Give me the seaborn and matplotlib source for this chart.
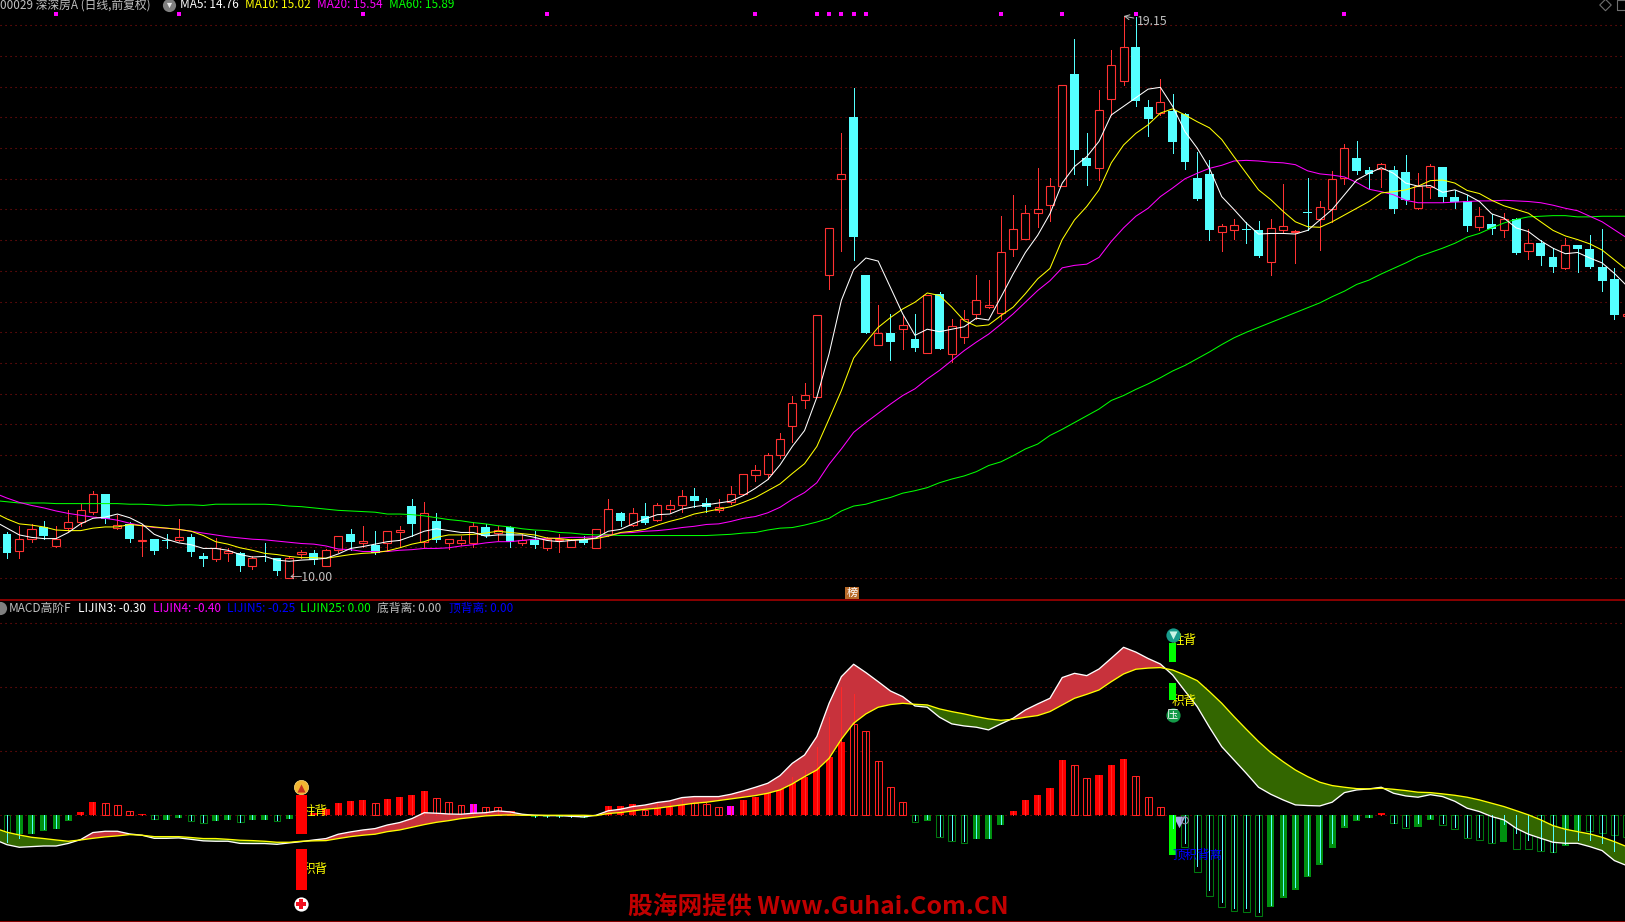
import numpy as np
import matplotlib
matplotlib.use("Agg")
import matplotlib.pyplot as plt
import seaborn as sns

opens = [10.72,10.43,10.64,10.83,10.52,10.82,10.91,11.07,11.36,10.82,
    10.88,10.60,10.63,10.61,10.62,10.66,10.35,10.31,10.41,10.41,
    10.19,10.36,10.33,10.00,10.39,10.41,10.19,10.45,10.72,10.57,
    10.53,10.57,10.74,11.17,10.58,10.92,10.57,10.57,10.57,10.83,
    10.73,10.83,10.57,10.62,10.48,10.61,10.51,10.64,10.48,10.72,
    11.05,10.86,11.01,10.95,11.12,11.18,11.34,11.22,11.10,11.24,
    11.36,11.68,11.69,12.00,12.47,12.90,12.94,14.93,16.49,17.50,
    14.94,13.80,13.99,14.05,13.89,13.67,14.63,13.64,13.92,14.29,
    14.42,14.31,15.35,15.52,15.94,16.07,16.38,18.21,16.84,16.68,
    17.80,18.10,18.65,17.67,17.57,17.60,17.56,16.52,16.58,15.64,
    15.66,15.68,15.66,15.15,15.67,15.63,15.96,15.85,16.00,16.51,
    16.84,16.65,16.66,16.64,16.61,16.02,16.36,16.69,16.21,16.14,
    15.72,15.77,15.67,15.84,15.33,15.45,15.23,15.04,15.42,15.36,
    15.07,14.86,14.27]
closes = [10.40,10.64,10.80,10.69,10.64,10.91,11.10,11.37,10.96,10.86,
    10.63,10.62,10.43,10.60,10.67,10.42,10.30,10.49,10.43,10.20,
    10.33,10.35,10.11,10.33,10.42,10.29,10.46,10.69,10.58,10.60,
    10.41,10.76,10.78,10.87,11.06,10.62,10.64,10.62,10.85,10.69,
    10.78,10.59,10.62,10.53,10.63,10.64,10.62,10.57,10.80,11.13,
    10.92,11.05,10.90,11.18,11.18,11.33,11.26,11.15,11.15,11.36,
    11.69,11.76,12.00,12.26,12.85,12.98,14.28,15.70,16.57,15.55,
    13.99,13.99,13.85,14.12,13.75,14.60,13.73,14.10,14.22,14.53,
    14.45,15.31,15.68,15.95,16.01,16.39,18.03,16.97,16.71,17.62,
    18.35,18.65,17.76,17.48,17.75,17.10,16.78,16.17,15.66,15.73,
    15.74,15.66,15.24,15.70,15.73,15.65,15.95,16.04,16.49,17.00,
    16.63,16.58,16.74,16.01,16.16,16.38,16.71,16.21,16.12,15.73,
    15.89,15.68,15.84,15.29,15.45,15.24,15.07,15.42,15.36,15.07,
    14.83,14.28,14.29]
highs = [10.74,10.84,10.88,10.93,10.84,11.10,11.21,11.41,11.37,11.02,
    10.91,10.88,10.64,10.72,10.96,10.72,10.41,10.65,10.49,10.42,
    10.36,10.57,10.33,10.36,10.46,10.46,10.47,10.69,10.80,10.84,
    10.76,10.76,10.84,11.29,11.24,11.05,10.64,10.69,10.91,10.88,
    10.85,10.84,10.72,10.76,10.67,10.72,10.64,10.68,10.80,11.29,
    11.07,11.14,11.22,11.22,11.27,11.43,11.46,11.30,11.28,11.49,
    11.69,11.84,12.04,12.36,12.97,13.18,14.28,15.70,17.25,17.98,
    14.94,14.45,14.30,14.26,14.29,14.60,14.65,14.22,14.36,14.93,
    14.85,15.89,16.24,16.08,16.68,16.52,18.03,18.77,17.24,17.95,
    18.59,19.15,19.14,17.79,18.13,17.88,17.57,16.93,16.81,15.77,
    15.84,15.79,15.82,15.85,16.42,15.67,16.51,16.14,16.62,17.07,
    17.12,16.70,16.76,16.71,16.89,16.59,16.74,16.70,16.32,16.24,
    16.04,15.93,15.94,15.86,15.68,15.51,15.37,15.53,15.42,15.59,
    15.68,15.04,14.29]
lows = [10.33,10.33,10.58,10.64,10.51,10.77,10.85,11.04,10.89,10.80,
    10.59,10.36,10.39,10.49,10.60,10.35,10.20,10.27,10.28,10.12,
    10.14,10.28,10.05,10.00,10.33,10.23,10.19,10.42,10.45,10.50,
    10.39,10.45,10.50,10.69,10.51,10.58,10.47,10.54,10.51,10.66,
    10.62,10.50,10.54,10.49,10.45,10.42,10.50,10.55,10.48,10.69,
    10.85,10.84,10.88,10.93,11.07,11.07,11.16,11.07,11.07,11.20,
    11.35,11.58,11.61,11.96,12.21,12.76,12.94,14.70,15.32,15.18,
    13.99,13.80,13.55,13.72,13.70,13.67,13.72,13.51,13.83,14.22,
    14.39,14.22,15.25,15.52,15.71,15.81,16.38,16.57,16.40,16.48,
    17.54,18.02,17.69,17.20,17.54,16.92,16.66,16.16,15.51,15.32,
    15.52,15.45,15.22,14.93,15.64,15.13,15.67,15.34,15.79,16.42,
    16.57,16.35,16.36,15.95,16.09,16.00,16.18,16.13,16.02,15.65,
    15.67,15.60,15.56,15.28,15.20,15.10,14.99,15.03,14.99,15.04,
    14.67,14.22,14.27]

# line series start one bar earlier, that bar is cut off by the left edge
ma5 = [10.92,
    10.81,10.70,10.66,10.64,10.64,10.74,10.88,10.97,10.99,11.04,
    10.98,10.88,10.71,10.63,10.57,10.54,10.48,10.48,10.45,10.38,
    10.34,10.35,10.29,10.27,10.29,10.30,10.32,10.39,10.48,10.51,
    10.55,10.59,10.61,10.68,10.76,10.80,10.77,10.74,10.74,10.68,
    10.70,10.70,10.70,10.66,10.61,10.59,10.61,10.62,10.65,10.76,
    10.79,10.88,10.96,11.03,11.04,11.12,11.16,11.19,11.22,11.25,
    11.34,11.46,11.60,11.84,12.14,12.40,12.94,13.65,14.52,15.02,
    15.21,15.16,14.73,14.30,13.95,14.05,14.01,14.05,14.09,14.23,
    14.20,14.57,14.95,15.30,15.58,15.93,16.43,16.70,16.86,17.11,
    17.54,17.68,17.82,17.96,17.99,17.68,17.27,17.00,16.67,16.21,
    16.00,15.78,15.60,15.61,15.61,15.60,15.66,15.83,16.00,16.24,
    16.48,16.59,16.68,16.59,16.43,16.38,16.39,16.28,16.32,16.24,
    16.13,15.93,15.86,15.70,15.64,15.49,15.37,15.28,15.30,15.21,
    15.13,14.96,14.76]
ma10 = [11.06,
    10.96,10.88,10.86,10.83,10.78,10.77,10.77,10.81,10.83,10.83,
    10.87,10.85,10.83,10.81,10.79,10.76,10.69,10.59,10.55,10.49,
    10.45,10.40,10.38,10.35,10.33,10.33,10.32,10.35,10.38,10.40,
    10.41,10.44,10.49,10.55,10.59,10.66,10.70,10.70,10.71,10.73,
    10.76,10.74,10.72,10.70,10.65,10.64,10.62,10.63,10.64,10.68,
    10.74,10.76,10.79,10.86,10.92,10.97,11.04,11.08,11.12,11.16,
    11.23,11.31,11.42,11.53,11.70,11.86,12.14,12.59,13.05,13.58,
    13.84,14.08,14.24,14.38,14.49,14.64,14.60,14.41,14.19,14.10,
    14.12,14.27,14.41,14.63,14.87,15.04,15.51,15.83,16.05,16.32,
    16.76,17.05,17.24,17.38,17.57,17.64,17.54,17.43,17.33,17.14,
    16.86,16.59,16.32,16.16,15.97,15.80,15.72,15.71,15.80,15.91,
    16.02,16.13,16.27,16.29,16.32,16.38,16.47,16.48,16.43,16.31,
    16.26,16.15,16.06,16.00,15.94,15.80,15.66,15.57,15.51,15.44,
    15.34,15.18,15.02]
ma20 = [11.38,
    11.30,11.23,11.18,11.14,11.09,11.05,11.02,10.99,10.97,10.94,
    10.89,10.85,10.82,10.81,10.79,10.76,10.73,10.70,10.67,10.65,
    10.63,10.62,10.60,10.58,10.56,10.55,10.52,10.47,10.46,10.43,
    10.43,10.43,10.45,10.46,10.48,10.48,10.49,10.52,10.54,10.57,
    10.59,10.59,10.61,10.63,10.64,10.65,10.66,10.66,10.67,10.69,
    10.73,10.74,10.76,10.77,10.79,10.82,10.84,10.87,10.88,10.92,
    10.97,11.00,11.06,11.15,11.28,11.39,11.55,11.85,12.10,12.37,
    12.53,12.68,12.83,12.97,13.08,13.24,13.38,13.54,13.70,13.84,
    13.97,14.13,14.30,14.49,14.68,14.84,15.05,15.09,15.11,15.22,
    15.48,15.70,15.89,16.02,16.21,16.35,16.50,16.59,16.67,16.72,
    16.79,16.80,16.79,16.77,16.76,16.73,16.63,16.58,16.56,16.53,
    16.44,16.33,16.29,16.24,16.15,16.11,16.11,16.11,16.12,16.13,
    16.14,16.14,16.15,16.14,16.13,16.11,16.07,16.02,15.98,15.89,
    15.80,15.67,15.54]
ma60 = [11.26,
    11.24,11.22,11.22,11.22,11.21,11.21,11.21,11.21,11.21,11.21,
    11.20,11.20,11.19,11.18,11.19,11.19,11.18,11.20,11.20,11.20,
    11.20,11.20,11.19,11.17,11.16,11.14,11.12,11.10,11.09,11.08,
    11.07,11.04,11.04,11.03,11.01,10.98,10.95,10.93,10.90,10.88,
    10.85,10.83,10.80,10.78,10.77,10.74,10.73,10.71,10.70,10.70,
    10.69,10.69,10.69,10.69,10.69,10.69,10.69,10.69,10.70,10.71,
    10.73,10.74,10.78,10.81,10.82,10.86,10.91,10.97,11.09,11.17,
    11.20,11.26,11.31,11.38,11.42,11.47,11.55,11.61,11.66,11.73,
    11.83,11.89,11.99,12.10,12.18,12.32,12.42,12.53,12.64,12.75,
    12.89,12.97,13.07,13.16,13.26,13.37,13.46,13.57,13.68,13.80,
    13.91,14.00,14.08,14.16,14.24,14.32,14.40,14.48,14.58,14.67,
    14.78,14.85,14.95,15.04,15.13,15.23,15.30,15.37,15.45,15.55,
    15.61,15.70,15.78,15.84,15.88,15.89,15.90,15.90,15.88,15.88,
    15.89,15.89,15.89]

dif = [-.19,
    -.23,-.25,-.245,-.24,-.24,-.22,-.19,-.135,-.125,-.125,
    -.146,-.156,-.18,-.18,-.177,-.188,-.20,-.203,-.203,-.22,
    -.221,-.221,-.227,-.216,-.206,-.193,-.182,-.148,-.13,-.115,
    -.104,-.076,-.057,-.026,.02,.016,.01,.008,.016,.02,
    .034,.026,.008,0,-.003,-.003,-.008,-.013,0,.035,
    .047,.068,.08,.10,.112,.138,.146,.146,.146,.164,
    .19,.219,.25,.31,.406,.471,.615,.875,1.083,1.18,
    1.115,1.044,.971,.927,.854,.844,.766,.714,.698,.688,
    .667,.714,.758,.823,.87,.914,1.076,1.109,1.091,1.143,
    1.227,1.3125,1.275,1.225,1.182,1.096,.971,.849,.6875,.536,
    .432,.328,.219,.164,.12,.081,.076,.073,.102,.177,
    .198,.206,.219,.172,.151,.141,.161,.146,.109,.055,
    .029,-.01,-.036,-.102,-.148,-.18,-.211,-.219,-.219,-.245,
    -.276,-.354,-.393]
dea = [-.10,
    -.133,-.154,-.172,-.182,-.193,-.203,-.193,-.18,-.169,-.161,
    -.151,-.156,-.167,-.167,-.167,-.174,-.182,-.182,-.188,-.195,
    -.198,-.203,-.211,-.211,-.203,-.2,-.198,-.182,-.167,-.156,
    -.148,-.128,-.115,-.094,-.073,-.055,-.042,-.026,-.016,-.005,
    0,.003,0,0,0,0,0,0,-.003,.014,
    .021,.034,.047,.055,.068,.081,.094,.102,.115,.128,
    .141,.154,.172,.198,.245,.302,.354,.445,.594,.719,
    .792,.844,.865,.875,.867,.862,.831,.81,.792,.771,
    .753,.742,.75,.766,.779,.81,.862,.914,.945,.979,
    1.044,1.104,1.141,1.15,1.154,1.135,1.096,1.052,.966,.875,
    .771,.672,.576,.49,.419,.354,.302,.258,.232,.219,
    .208,.206,.211,.203,.193,.18,.177,.167,.156,.141,
    .12,.094,.068,.036,.003,-.036,-.081,-.109,-.128,-.146,
    -.172,-.206,-.245]
hist = [-.128,-.148,-.146,-.12,-.107,-.042,.026,.104,.094,.081,
    .034,.01,-.031,-.034,-.018,-.042,-.057,-.042,-.036,-.055,
    -.036,-.034,-.047,-.026,.03,.016,.047,.094,.112,.12,
    .094,.128,.143,.159,.19,.133,.104,.078,.089,.0625,
    .0625,.034,.005,-.01,-.01,-.01,-.01,-.016,.005,.073,
    .073,.089,.042,.055,.068,.081,.094,.086,.0625,.073,
    .12,.143,.172,.203,.255,.302,.367,.458,.576,.714,
    .656,.422,.219,.102,-.049,-.042,-.167,-.198,-.214,-.185,
    -.185,-.076,.031,.12,.159,.214,.432,.391,.289,.315,
    .393,.44,.307,.146,.0625,-.30,-.25,-.445,-.628,-.714,
    -.745,-.753,-.784,-.714,-.643,-.581,-.479,-.385,-.253,-.096,
    -.042,-.021,.018,-.0625,-.096,-.091,-.034,-.073,-.104,-.174,
    -.19,-.214,-.206,-.26,-.26,-.276,-.289,-.237,-.12,-.12,
    -.141,-.154,-.167]
stick = [-.206,-.18,-.14,-.11,-.10,-.03,.026,.104,.094,.081,
    .034,.01,-.03,-.03,-.015,-.04,-.05,-.04,-.03,-.05,
    -.03,-.03,-.04,-.02,.03,.016,.047,.094,.112,.12,
    .094,.128,.143,.159,.19,.133,.104,.078,.089,.0625,
    .0625,.034,.005,-.01,-.01,-.01,-.01,-.016,.005,.073,
    .073,.089,.042,.094,.094,.12,.107,.094,.0625,.073,
    .12,.143,.172,.203,.302,.354,.531,.771,1.005,.948,
    .656,.422,.219,.102,-.04,-.03,-.16,-.19,-.20,-.18,
    -.18,-.07,.031,.12,.159,.214,.432,.391,.289,.315,
    .393,.44,.307,.146,.0625,-.10,-.22,-.40,-.583,-.674,
    -.727,-.727,-.753,-.70,-.622,-.557,-.466,-.362,-.219,-.076,
    -.031,-.01,.01,-.057,-.083,-.0625,-.023,-.0625,-.089,-.167,
    -.167,-.206,-.068,-.14,-.193,-.271,-.284,-.224,-.193,-.193,
    -.214,-.276,-.167]
# F filled, H hollow, M magenta
hist_style = ("HFFFFFFFHH" "HFHFFHHFFH" "FFHFFFFFFF" "HFFFFHHHMH" "HHFFFFFHFF"
    "FFHFFFHHHM" "FFFFFFFFFH" "HHHHHFHHHF" "FFFFFFFHHF" "FFHHHFHHHH"
    "HHHFFFFFFF" "FFFHHFFHHH" "HHFHHHHFFH" "HHH")

dot_bars = [4, 14, 29, 44, 61, 66, 67, 68, 69, 70, 81, 86, 92, 109]
dot_level = 19.18
price_grid = [10.0 + 0.5 * k for k in range(19)]
macd_grid = [0.0, 0.5, 1.0, 1.5]

# signal columns: bar, from, to
low_sig_bar = 24
low_sig = [(.159, -.146), (-.263, -.584)]
top_sig_bar = 95
top_sig = [(1.348, 1.2), (1.031, .90), (0.0, -.31)]

title_parts = [(0, "00029 深深房A (日线,前复权)", "#C0C0C0"), (180, "MA5: 14.76", "#FFFFFF"),
    (245, "MA10: 15.02", "#FFFF00"), (317, "MA20: 15.54", "#FF00FF"), (389, "MA60: 15.89", "#00FF00")]
macd_parts = [(9, "MACD高阶F", "#C0C0C0"), (78, "LIJIN3: -0.30", "#FFFFFF"),
    (153, "LIJIN4: -0.40", "#FF00FF"), (227, "LIJIN5: -0.25", "#0000FF"),
    (300, "LIJIN25: 0.00", "#00FF00"), (377, "底背离: 0.00", "#C0C0C0"), (449, "顶背离: 0.00", "#0000FF")]

W, H = 1625, 922
RED = "#FF3232"
CYAN = "#54FFFF"
GRID = "#8C1010"

sns.set_theme(style="dark", rc={"figure.facecolor": "black", "axes.facecolor": "black",
                                "savefig.facecolor": "black", "axes.edgecolor": "black"})
plt.rcParams["font.family"] = ["Noto Sans CJK SC", "DejaVu Sans"]

idx = np.arange(len(closes))
line_idx = np.arange(-1, len(closes))
o = np.array(opens)
c = np.array(closes)
hi = np.array(highs)
lo = np.array(lows)
h = np.array(hist)
st = np.array(stick)
style = np.array(list(hist_style))

fig = plt.figure(figsize=(W / 100, H / 100), dpi=100)
ax = fig.add_axes([0, 322 / H, 1, 600 / H])
ax2 = fig.add_axes([0, 0, 1, 322 / H])

xlim = (-7 / 12.27, (W - 7) / 12.27)
for a in (ax, ax2):
    a.set_xlim(*xlim)
    a.set_xticks([])
    a.tick_params(left=False, bottom=False, labelleft=False, labelbottom=False)
    a.set_axisbelow(True)
    a.grid(axis="y", color=GRID, linestyle=(0, (1, 3.5)), linewidth=0.8)
    a.grid(axis="x", visible=False)
ax.set_ylim(9.64, 19.412)
ax.set_yticks(price_grid)
ax2.set_ylim(-.834, 1.682)
ax2.set_yticks(macd_grid)
for s in ax.spines.values():
    s.set_visible(False)
for s in ("left", "right"):
    ax2.spines[s].set_visible(False)
for s in ("top", "bottom"):
    ax2.spines[s].set_color("#B00000")
    ax2.spines[s].set_linewidth(1.1)

# candles
up = c >= o
ax.vlines(idx[~up], lo[~up], hi[~up], color=CYAN, linewidth=0.72, zorder=2, antialiased=False)
ax.bar(idx[~up], (o - c)[~up], bottom=c[~up], width=0.72, color=CYAN, linewidth=0, zorder=3)
ax.vlines(idx[up], c[up], hi[up], color=RED, linewidth=0.72, zorder=2, antialiased=False)
ax.vlines(idx[up], lo[up], o[up], color=RED, linewidth=0.72, zorder=2, antialiased=False)
ax.bar(idx[up], (c - o)[up], bottom=o[up], width=0.66, facecolor="black", edgecolor=RED,
       linewidth=0.8, zorder=3)

for vals, col in ((ma60, "#00FF00"), (ma20, "#FF00FF"), (ma10, "#FFFF00"), (ma5, "#FFFFFF")):
    sns.lineplot(x=line_idx, y=vals, color=col, linewidth=0.75, ax=ax, zorder=4, legend=False, errorbar=None)
ax.set_xlim(*xlim)

ax.scatter(dot_bars, [dot_level] * len(dot_bars), marker="s", s=5, color="#FF00FF", linewidths=0, zorder=5)

ax.text(23, 10.0, "←10.00", color="#C0C0C0", fontsize=8.8, va="center", zorder=6)
ax.annotate("19.15", xy=(91, 19.15), xytext=(92.1, 19.06), color="#C0C0C0", fontsize=8.8, va="center",
            arrowprops=dict(arrowstyle="->", color="#C0C0C0", linewidth=0.7, shrinkA=0, shrinkB=0), zorder=6)

# macd histogram
pos = h >= 0
fill = style == "F"
hol = style == "H"
mag = style == "M"
ax2.bar(idx[pos & fill], h[pos & fill], width=0.58, color="#FF0000", linewidth=0, zorder=2)
ax2.bar(idx[pos & hol], h[pos & hol], width=0.56, facecolor="black", edgecolor="#FF1E1E", linewidth=0.75, zorder=2)
ax2.bar(idx[mag], h[mag], width=0.58, color="#FF00FF", linewidth=0, zorder=2)
ax2.bar(idx[~pos & fill], h[~pos & fill], width=0.58, color="#009010", linewidth=0, zorder=2)
ax2.bar(idx[~pos & hol], h[~pos & hol], width=0.56, facecolor="black", edgecolor="#007A10", linewidth=0.75, zorder=2)

d1 = np.array(dif)
d2 = np.array(dea)
ax2.fill_between(line_idx, d1, d2, where=d1 >= d2, interpolate=True, color="#C8323C", linewidth=0, zorder=3)
ax2.fill_between(line_idx, d1, d2, where=d1 <= d2, interpolate=True, color="#336600", linewidth=0, zorder=3)

ax2.vlines(idx[st > 0], 0, st[st > 0], color="#FF2828", linewidth=0.7, zorder=4, antialiased=False)
ax2.vlines(idx[st < 0], st[st < 0], 0, color=CYAN, linewidth=0.7, zorder=4, antialiased=False)

sns.lineplot(x=line_idx, y=dif, color="#FFFFFF", linewidth=0.95, ax=ax2, zorder=5, legend=False, errorbar=None)
sns.lineplot(x=line_idx, y=dea, color="#FFFF00", linewidth=0.95, ax=ax2, zorder=5, legend=False, errorbar=None)
ax2.set_xlim(*xlim)

# signal texts sit under the signal columns
ax2.text(24.1, .026, "柱背", color="#FFFF00", fontsize=9, va="center", zorder=6)
ax2.text(24.1, -.427, "积背", color="#FFFF00", fontsize=9, va="center", zorder=6)
ax2.text(94.95, 1.362, "柱背", color="#FFFF00", fontsize=9, va="center", zorder=6)
ax2.text(94.95, .887, "积背", color="#FFFF00", fontsize=9, va="center", zorder=6)

ax2.scatter([95.5], [-.055], marker="v", s=70, color="#A8ACE8", linewidths=0, zorder=6)
ax2.scatter([96.0], [-.04], marker="o", s=24, facecolor="none", edgecolor="#9090A0", linewidths=0.8, zorder=6)

for a, b in low_sig:
    ax2.bar([low_sig_bar], [a - b], bottom=[b], width=0.9, color="#FF0000", linewidth=0, zorder=7)
for a, b in top_sig:
    ax2.bar([top_sig_bar], [a - b], bottom=[b], width=0.58, color="#00FF00", linewidth=0, zorder=7)
ax2.vlines([top_sig_bar], -.10, 0, color=CYAN, linewidth=0.7, zorder=8, antialiased=False)

ax2.scatter([24], [.223], s=105, color="#F2B632", edgecolor="#FFE080", linewidths=0.5, zorder=8)
ax2.scatter([24], [.215], marker="^", s=34, color="#C8321E", linewidths=0, zorder=9)
ax2.scatter([24], [-.693], s=105, color="#FFFFFF", linewidths=0, zorder=8)
ax2.scatter([24], [-.693], marker="P", s=42, color="#F01020", linewidths=0, zorder=9)
ax2.scatter([95], [1.409], s=105, color="#179C8C", linewidths=0, zorder=8)
ax2.scatter([95], [1.405], marker="v", s=34, color="#C8F5E6", linewidths=0, zorder=9)
ax2.scatter([95], [.784], s=105, color="#149A48", linewidths=0, zorder=8)
ax2.text(95, .784, "压", color="white", fontsize=8, ha="center", va="center", zorder=9)
ax2.text(94.95, -.31, "顶积背离", color="#0000FF", fontsize=9, va="center", zorder=9)


def label(x, y, text, color, size=8.5, **kw):
    return fig.text(x / W, 1 - y / H, text, color=color, fontsize=size, va="center", **kw)


for x, text, col in title_parts:
    label(x, 5, text, col)
for x, text, col in macd_parts:
    label(x, 608.5, text, col)

# little round buttons and corner icons
ax_icons = fig.add_axes([0, 0, 1, 1], facecolor="none")
ax_icons.set_xlim(0, W)
ax_icons.set_ylim(H, 0)
ax_icons.axis("off")
ax_icons.scatter([168.5, 0], [5.5, 608], s=90, color="#808080", linewidths=0)
ax_icons.scatter([168.5], [5.5], marker="v", s=14, color="#E8E8E8", linewidths=0)
ax_icons.scatter([1605.5], [5], marker="D", s=34, facecolor="none", edgecolor="#707070", linewidths=0.8)
ax_icons.scatter([1622], [5], marker="s", s=50, facecolor="none", edgecolor="#707070", linewidths=0.8)

label(852, 593, "榜", "#FFFFFF", size=8, ha="center",
      bbox=dict(boxstyle="square,pad=0.12", facecolor="#B86A28", edgecolor="none"))
label(818, 906.5, "股海网提供 Www.Guhai.Com.CN", "#C00000", size=17.8, ha="center", fontweight="bold")

fig.savefig("out.png", dpi=100, facecolor="black")
